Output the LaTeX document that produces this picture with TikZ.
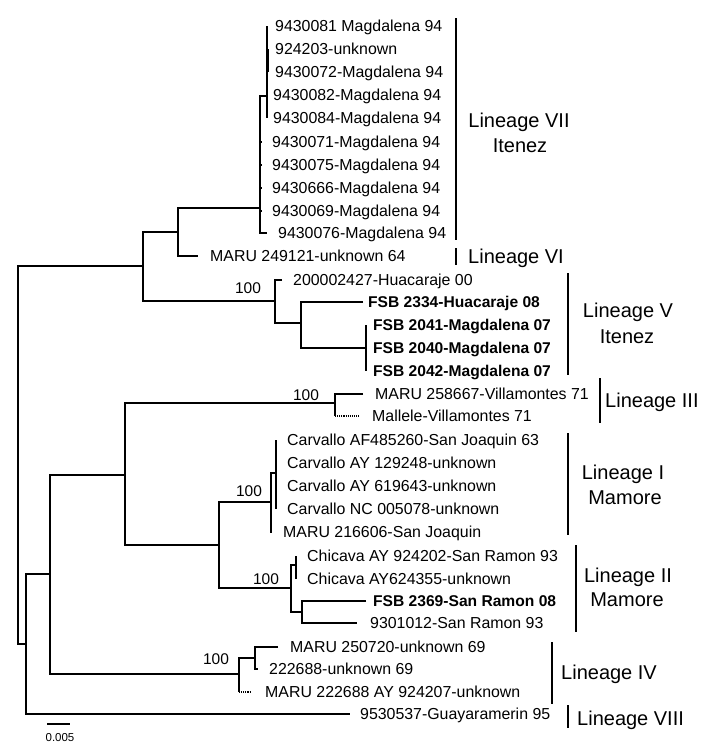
\documentclass[tikz,border=0pt]{standalone}
\usepackage{fontspec}
\setmainfont{Liberation Sans}
\begin{document}
\begin{tikzpicture}[x=1pt,y=-1pt,
  leaf/.style={anchor=west, inner xsep=0pt, inner ysep=0pt, text height=11.5pt, text depth=0pt, font=\fontsize{15.9}{18}\selectfont},
  bleaf/.style={leaf, font=\fontsize{15.6}{18}\selectfont\bfseries},
  boot/.style={inner sep=0pt, font=\fontsize{15.5}{18}\selectfont},
  lin/.style={inner sep=0pt, text height=14.5pt, text depth=0pt, font=\fontsize{20}{24}\selectfont},
  br/.style={line width=1.2pt},
  dbr/.style={line width=1.1pt, densely dotted},
  bar/.style={line width=2.8pt}]
\useasboundingbox (0,0) rectangle (720,756);
% leaves
\node[leaf] (t1) at (275,26) {9430081 Magdalena 94};
\node[leaf] (t2) at (275,49) {924203-unknown};
\node[leaf] (t3) at (275,72) {9430072-Magdalena 94};
\node[leaf] (t4) at (273,95) {9430082-Magdalena 94};
\node[leaf] (t5) at (273,118) {9430084-Magdalena 94};
\node[leaf] (t6) at (272,142) {9430071-Magdalena 94};
\node[leaf] (t7) at (272,165) {9430075-Magdalena 94};
\node[leaf] (t8) at (272,188) {9430666-Magdalena 94};
\node[leaf] (t9) at (272,211) {9430069-Magdalena 94};
\node[leaf] (t10) at (278,233) {9430076-Magdalena 94};
\node[leaf] (t11) at (210,256) {MARU 249121-unknown 64};
\node[leaf] (t12) at (293,280) {200002427-Huacaraje 00};
\node[bleaf] (t13) at (368,302) {FSB 2334-Huacaraje 08};
\node[bleaf] (t14) at (373,325) {FSB 2041-Magdalena 07};
\node[bleaf] (t15) at (373,348) {FSB 2040-Magdalena 07};
\node[bleaf] (t16) at (373,371) {FSB 2042-Magdalena 07};
\node[leaf] (t17) at (375,394) {MARU 258667-Villamontes 71};
\node[leaf] (t18) at (372,416) {Mallele-Villamontes 71};
\node[leaf] (t19) at (287,440) {Carvallo AF485260-San Joaquin 63};
\node[leaf] (t20) at (287,463) {Carvallo AY 129248-unknown};
\node[leaf] (t21) at (287,486) {Carvallo AY 619643-unknown};
\node[leaf] (t22) at (287,509) {Carvallo NC 005078-unknown};
\node[leaf] (t23) at (283,532) {MARU 216606-San Joaquin};
\node[leaf] (t24) at (307,556) {Chicava AY 924202-San Ramon 93};
\node[leaf] (t25) at (307,579) {Chicava AY624355-unknown};
\node[bleaf] (t26) at (373,601) {FSB 2369-San Ramon 08};
\node[leaf] (t27) at (370,623) {9301012-San Ramon 93};
\node[leaf] (t28) at (290,647) {MARU 250720-unknown 69};
\node[leaf] (t29) at (269,669) {222688-unknown 69};
\node[leaf] (t30) at (265,692) {MARU 222688 AY 924207-unknown};
\node[leaf] (t31) at (360,714) {9530537-Guayaramerin 95};
% internal nodes
\coordinate (R) at (18,455);
\coordinate (B) at (143,266);
\coordinate (A) at (178,232);
\coordinate (L7) at (260,208);
\coordinate (L7s) at (267,96);
\coordinate (L5) at (275,301);
\coordinate (L5a) at (301,323);
\coordinate (L5b) at (366,348);
\coordinate (E) at (26,644);
\coordinate (F) at (50,574);
\coordinate (C) at (125,475);
\coordinate (L3) at (335,403);
\coordinate (D) at (219,545);
\coordinate (L1) at (271,502);
\coordinate (L1s) at (276,473);
\coordinate (L2) at (291,588);
\coordinate (L2a) at (296,565);
\coordinate (L2b) at (302,612);
\coordinate (L4) at (239,674);
\coordinate (L4a) at (255,658);
% branches
\draw[br] (B) -| (R) |- (E);
\draw[br] (A) -| (B) |- (L5);
\draw[br] (L7) -| (A) |- ([xshift=-12pt]t11.west);
\draw[br] (L7s) -- (L7 |- L7s) -- (L7 |- t10) -- ([xshift=-11pt]t10.west);
\foreach \t in {t6,t7,t8,t9} \draw[br] (L7 |- \t) -- ([xshift=-10pt]\t.west);
\draw[br] (L7s |- t1) -- (L7s |- t5);
\draw[line width=1.8pt] ([xshift=-7pt]t2.west) -- ([xshift=-7pt]t3.west);
\draw[br] ([xshift=-11pt]t12.west) -| (L5) |- (L5a);
\draw[br] ([xshift=-5pt]t13.west) -| (L5a) |- (L5b);
\draw[br] ([xshift=-7pt]t14.west) -- ([xshift=-7pt]t16.west);
\draw[br] (F) -| (E) |- ([xshift=-10pt]t31.west);
\draw[br] (C) -| (F) |- (L4);
\draw[br] (L3) -| (C) |- (D);
\draw[br] ([xshift=-12pt]t17.west) -| (L3 |- t18);
\draw[dbr] (L3 |- t18) -- ([xshift=-12pt]t18.west);
\draw[br] (L1) -| (D) |- (L2);
\draw[br] (L1s) -- (L1 |- L1s) -- (L1 |- t23) -- ([xshift=-11pt]t23.west);
\draw[br] ([xshift=-11pt]t19.west) -- ([xshift=-11pt]t22.west);
\draw[br] (L2a) -| (L2) |- (L2b);
\draw[br] ([xshift=-11pt]t24.west) -- ([xshift=-11pt]t25.west);
\draw[br] ([xshift=-7pt]t26.west) -| (L2b) |- ([xshift=-13pt]t27.west);
\draw[br] (L4a) -| (L4) -- (L4 |- t30);
\draw[dbr] (L4 |- t30) -- ([xshift=-15pt]t30.west);
\draw[br] ([xshift=-12pt]t28.west) -| (L4a) |- ([xshift=-11pt]t29.west);
% bootstrap values
\node[boot] (b5) at (248,288) {100};
\node[boot] (b3) at (306,395) {100};
\node[boot] (b1) at (249,491) {100};
\node[boot] (b2) at (266,579) {100};
\node[boot] (b4) at (216,659) {100};
% scale bar
\coordinate (s1) at (47,724);
\coordinate (s2) at (70,724);
\draw[br] (s1) -- (s2);
\node[inner sep=0pt, font=\fontsize{11.5}{13}\selectfont] (sl) at (60,738) {0.005};
% lineage bars and labels
\draw[bar] (456,18) -- (456,240);
\draw[bar] (456,248) -- (456,265);
\draw[bar] (568,273) -- (568,375);
\draw[bar] (600,378) -- (600,423);
\draw[bar] (568,433) -- (568,535);
\draw[bar] (576,545) -- (576,632);
\draw[bar] (552,642) -- (552,704);
\draw[bar] (568,705) -- (568,728);
\node[lin] (l7a) at (519,120) {Lineage VII};
\node[lin] (l7b) at (520,145) {Itenez};
\node[lin, anchor=west] (l6) at (468,256) {Lineage VI};
\node[lin] (l5a) at (628,310) {Lineage V};
\node[lin] (l5b) at (627,336) {Itenez};
\node[lin, anchor=west] (l3) at (605,400) {Lineage III};
\node[lin] (l1a) at (623,472) {Lineage I};
\node[lin] (l1b) at (625,497) {Mamore};
\node[lin] (l2a) at (628,575) {Lineage II};
\node[lin] (l2b) at (627,599) {Mamore};
\node[lin, anchor=west] (l4) at (561,672) {Lineage IV};
\node[lin, anchor=west] (l8) at (577,718) {Lineage VIII};
\end{tikzpicture}
\end{document}
